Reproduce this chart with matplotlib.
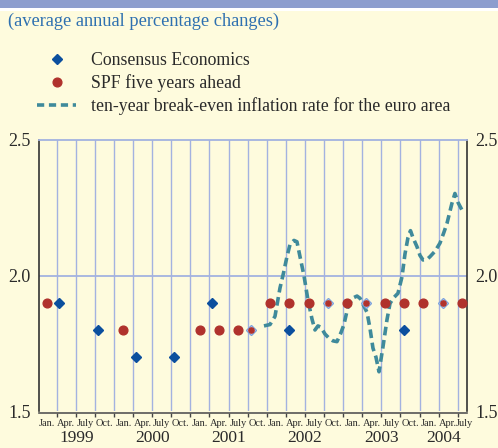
import numpy as np
import matplotlib
matplotlib.use("Agg")
import matplotlib.pyplot as plt
from matplotlib.lines import Line2D
import matplotlib.patches as mpatches

# ---------------- data ----------------
title = "(average annual percentage changes)"
series_names = ["Consensus Economics", "SPF five years ahead",
                "ten-year break-even inflation rate for the euro area"]

consensus_t = [1999.284, 1999.787, 2000.288, 2000.789, 2001.287, 2001.793,
               2002.294, 2002.797, 2003.298, 2003.796, 2004.302]
consensus_v = [1.9, 1.8, 1.7, 1.7, 1.9, 1.8, 1.8, 1.9, 1.9, 1.8, 1.9]

spf_t = [1999.119, 2000.122, 2001.126, 2001.374, 2001.627, 2001.793,
         2002.046, 2002.294, 2002.548, 2002.797, 2003.046, 2003.298,
         2003.547, 2003.796, 2004.048, 2004.302, 2004.551]
spf_v = [1.9, 1.8, 1.8, 1.8, 1.8, 1.8,
         1.9, 1.9, 1.9, 1.9, 1.9, 1.9, 1.9, 1.9, 1.9, 1.9, 1.9]

be_t = [2001.963, 2002.042, 2002.107, 2002.173, 2002.219, 2002.264, 2002.304,
        2002.356, 2002.395, 2002.435, 2002.487, 2002.539, 2002.592, 2002.631,
        2002.670, 2002.709, 2002.762, 2002.814, 2002.866, 2002.919, 2002.971,
        2003.010, 2003.063, 2003.128, 2003.181, 2003.220, 2003.259, 2003.312,
        2003.351, 2003.390, 2003.429, 2003.469, 2003.521, 2003.573, 2003.613,
        2003.665, 2003.717, 2003.770, 2003.809, 2003.848, 2003.881, 2003.914,
        2003.966, 2004.005, 2004.045, 2004.097, 2004.136, 2004.202, 2004.267,
        2004.319, 2004.359, 2004.424, 2004.463, 2004.503, 2004.555]
be_v = [1.815, 1.82, 1.85, 1.955, 2.01, 2.07, 2.115,
        2.13, 2.125, 2.07, 2.0, 1.91, 1.84, 1.80,
        1.815, 1.81, 1.785, 1.77, 1.76, 1.757, 1.79,
        1.82, 1.886, 1.918, 1.925, 1.917, 1.895, 1.865,
        1.806, 1.733, 1.70, 1.646, 1.738, 1.837, 1.898,
        1.92, 1.935, 1.996, 2.08, 2.14, 2.166, 2.14,
        2.107, 2.075, 2.058, 2.06, 2.07, 2.09, 2.12,
        2.16, 2.193, 2.267, 2.303, 2.27, 2.242]

quarter_labels = ["Jan.", "Apr.", "July", "Oct."]
years = [1999, 2000, 2001, 2002, 2003, 2004]
yticks = [1.5, 2.0, 2.5]
ytick_labels = ["1.5", "2.0", "2.5"]

# ---------------- style ----------------
W, H = 498, 448
BG = "#fefbdd"
GRID = "#a3b2e0"
BLUE = "#0b4f9e"
RED = "#b0322c"
TEAL = "#3f8a9b"
TXT = "#2a2a2a"
SERIF = ["Liberation Serif", "DejaVu Serif"]

plt.rcParams["font.family"] = SERIF

fig = plt.figure(figsize=(W / 100, H / 100), dpi=100, facecolor=BG)

# header band
fig.patches.append(mpatches.Rectangle((0, 1 - 8 / H), 1, 8 / H, transform=fig.transFigure,
                                      facecolor="#8c9dce", edgecolor="none", zorder=0))
fig.patches.append(mpatches.Rectangle((0, 1 - 11 / H), 1, 3 / H, transform=fig.transFigure,
                                      facecolor="white", edgecolor="none", zorder=0))

fig.text(8 / W, 1 - 21 / H, title, color="#2e70b0", fontsize=13.2,
         ha="left", va="center")

# axes
x_left, x_right = 39.3, 466.7
y_top, y_bot = 140.0, 411.4
ax = fig.add_axes([x_left / W, 1 - y_bot / H, (x_right - x_left) / W, (y_bot - y_top) / H])
ax.set_facecolor(BG)

xmin, xmax = 1999.022, 2004.617
ax.set_xlim(xmin, xmax)
ax.set_ylim(yticks[0], yticks[-1])

# quarter boundaries as major ticks / vertical grid
q_bounds = np.arange(1999.25, xmax, 0.25)
ax.set_xticks(q_bounds)
ax.set_xticklabels([])
ax.tick_params(axis="x", direction="out", length=3, width=1, color="#444444")
for xb in q_bounds:
    ax.axvline(xb, color=GRID, lw=1.0, zorder=1)
ax.axhline(2.0, color=GRID, lw=1.3, zorder=1)

ax.set_yticks(yticks)
ax.set_yticklabels(ytick_labels)
ax.tick_params(axis="y", length=0, pad=6, labelsize=13, labelcolor=TXT,
               labelleft=True, labelright=True)

for s in ["left", "right"]:
    ax.spines[s].set_color("#333333")
    ax.spines[s].set_linewidth(1.2)
ax.spines["top"].set_color(GRID)
ax.spines["top"].set_linewidth(1.3)
ax.spines["bottom"].set_color("#555555")
ax.spines["bottom"].set_linewidth(1.2)
ax.spines["bottom"].set_position(("outward", 1.5))

# quarter labels
n_q = len(q_bounds) + 1
for i in range(n_q):
    start = 1999 + i * 0.25
    xc = min(start + 0.125, xmax - 0.03)
    ax.text(xc, -0.028, quarter_labels[i % 4], transform=ax.get_xaxis_transform(),
            ha="center", va="top", fontsize=7.5, color=TXT, clip_on=False)
# year labels
for yr in years:
    a, b = max(yr, xmin), min(yr + 1, xmax)
    ax.text((a + b) / 2, -0.068, str(yr), transform=ax.get_xaxis_transform(),
            ha="center", va="top", fontsize=12.5, color=TXT, clip_on=False)

# break-even line
ax.plot(be_t, be_v, color=TEAL, lw=2.6, dashes=(2.4, 1.3), zorder=3,
        solid_capstyle="butt", dash_capstyle="butt")

# markers
c_t = np.array(consensus_t); c_v = np.array(consensus_v)
s_t = np.array(spf_t); s_v = np.array(spf_v)
overlap_c = np.array([np.any(np.isclose(t, s_t, atol=0.01) & np.isclose(v, s_v)) for t, v in zip(c_t, c_v)])
overlap_s = np.array([np.any(np.isclose(t, c_t, atol=0.01) & np.isclose(v, c_v)) for t, v in zip(s_t, s_v)])

ax.plot(c_t[~overlap_c], c_v[~overlap_c], ls="none", marker="D", ms=5.2,
        color=BLUE, mec=BLUE, zorder=4)
ax.plot(s_t[~overlap_s], s_v[~overlap_s], ls="none", marker="o", ms=6.3,
        color=RED, mec=RED, zorder=4)
ax.plot(c_t[overlap_c], c_v[overlap_c], ls="none", marker="D", ms=5.6,
        mfc="white", mec="#7fa3dc", mew=1.0, zorder=4)
ax.plot(s_t[overlap_s], s_v[overlap_s], ls="none", marker="o", ms=3.8,
        color=RED, mec=RED, zorder=5)

# legend
handles = [
    Line2D([], [], ls="none", marker="D", ms=5.2, color=BLUE),
    Line2D([], [], ls="none", marker="o", ms=6.3, color=RED),
    Line2D([], [], color=TEAL, lw=2.6, dashes=(2.0, 1.3)),
]
fig.legend(handles, series_names, loc="upper left",
           bbox_to_anchor=(37 / W, 1 - 52 / H), frameon=False,
           fontsize=12.8, handlelength=2.2, handletextpad=0.85,
           labelspacing=0.3, borderpad=0, borderaxespad=0, labelcolor=TXT)

fig.savefig("out.png", dpi=100, facecolor=BG)
